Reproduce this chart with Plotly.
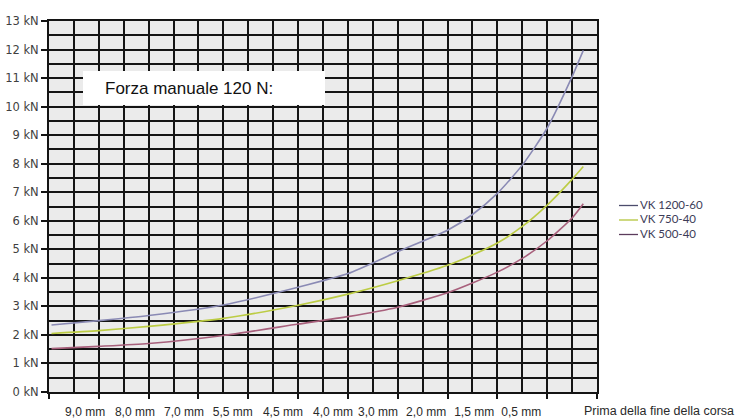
import plotly.graph_objects as go

# Stroke position along the grid (one unit = one grid column) and closing force in kN
pos = [0.1, 2, 4, 7, 10, 12, 14, 16, 17, 18, 19, 20, 21, 21.45]
vk_1200_60 = [2.35, 2.5, 2.68, 3.05, 3.67, 4.15, 4.92, 5.67, 6.22, 6.96, 7.95, 9.25, 11.05, 11.97]
vk_750_40 = [2.05, 2.15, 2.3, 2.58, 3.04, 3.43, 3.9, 4.44, 4.8, 5.22, 5.8, 6.55, 7.45, 7.9]
vk_500_40 = [1.52, 1.6, 1.7, 1.98, 2.38, 2.64, 2.97, 3.48, 3.82, 4.2, 4.68, 5.3, 6.1, 6.6]

series_names = ["VK 1200-60", "VK 750-40", "VK 500-40"]
series_values = [vk_1200_60, vk_750_40, vk_500_40]
curve_colors = ["#8a8ab4", "#bccc44", "#a8607c"]
legend_colors = ["#4c4c6c", "#b4c43c", "#5c3c5c"]

# Stroke labels under the axis
stroke_labels = ["9,0 mm", "8,0 mm", "7,0 mm", "5,5 mm", "4,5 mm",
                 "4,0 mm", "3,0 mm", "2,0 mm", "1,5 mm", "0,5 mm"]
stroke_label_pos = [1.45, 3.45, 5.42, 7.38, 9.39, 11.4, 13.21, 15.14, 17.07, 18.96]

force_ticks = list(range(0, 14))
force_labels = [f"{v} kN" for v in force_ticks]

W, H = 749, 419
ML, MR, MT, MB = 49, 152, 21, 27
PW, PH = W - ML - MR, H - MT - MB


def px(x):
    return (x - ML) / PW


def py(y):
    return (H - MB - y) / PH


fig = go.Figure()
for name, vals, col in zip(series_names, series_values, curve_colors):
    fig.add_trace(go.Scatter(
        x=pos, y=vals, mode="lines", name=name, showlegend=False,
        line=dict(color=col, width=1.6, shape="spline", smoothing=0.6),
        hoverinfo="skip",
    ))

# invisible traces that carry the label axis and the half-kN grid axis
fig.add_trace(go.Scatter(x=[0, 22], y=[0, 0], xaxis="x2", mode="lines",
                         line=dict(width=0), showlegend=False, hoverinfo="skip"))
fig.add_trace(go.Scatter(x=[0, 22], y=[0, 0], yaxis="y2", mode="lines",
                         line=dict(width=0), showlegend=False, hoverinfo="skip"))

grid = "#141414"
gw = 1.7
fig.update_layout(
    width=W, height=H,
    margin=dict(l=ML, r=MR, t=MT, b=MB, autoexpand=False),
    paper_bgcolor="white", plot_bgcolor="#ebebeb",
    showlegend=False,
    xaxis=dict(
        range=[0, 22], tickvals=list(range(0, 23, 2)), showticklabels=False,
        ticks="outside", ticklen=5, tickwidth=1.5, tickcolor=grid,
        showgrid=True, gridcolor=grid, gridwidth=gw,
        minor=dict(dtick=1, showgrid=True, gridcolor=grid, gridwidth=gw, ticks=""),
        showline=True, linecolor=grid, linewidth=2, mirror=True, zeroline=False,
        automargin=False, fixedrange=True,
    ),
    xaxis2=dict(
        range=[0, 22], overlaying="x", anchor="y", side="bottom",
        tickvals=stroke_label_pos, ticktext=stroke_labels, ticks="",
        showgrid=False, showline=False, zeroline=False,
        ticklabelstandoff=11, automargin=False, fixedrange=True,
        tickfont=dict(family="Liberation Sans, Arial, sans-serif", size=12, color="#2a2a2a"),
    ),
    yaxis=dict(
        range=[0, 13], tickvals=force_ticks, ticktext=force_labels,
        ticks="outside", ticklen=6, tickwidth=1.5, tickcolor=grid,
        showgrid=True, gridcolor=grid, gridwidth=gw,
        showline=True, linecolor=grid, linewidth=2, mirror=True, zeroline=False,
        ticklabelstandoff=0, automargin=False, fixedrange=True,
        tickfont=dict(family="DejaVu Sans, sans-serif", size=11.5, color="#3f3f3f"),
    ),
    yaxis2=dict(
        range=[0, 13], overlaying="y", anchor="x", side="left",
        dtick=0.5, showticklabels=False, ticks="",
        showgrid=True, gridcolor=grid, gridwidth=gw,
        showline=False, zeroline=False, automargin=False, fixedrange=True,
    ),
)

# white caption box inside the grid
fig.add_shape(type="rect", xref="paper", yref="paper",
              x0=px(83), x1=px(325), y0=py(105), y1=py(71),
              fillcolor="white", line=dict(width=0), layer="above")
fig.add_annotation(xref="paper", yref="paper", x=px(103), y=py(88),
                   xanchor="left", yanchor="middle", showarrow=False,
                   text="Forza manuale 120 N:",
                   font=dict(family="Liberation Sans, Arial, sans-serif", size=17, color="#111"))

fig.add_annotation(xref="paper", yref="paper", x=px(582), y=py(411),
                   xanchor="left", yanchor="middle", showarrow=False,
                   text="Prima della fine della corsa",
                   font=dict(family="Liberation Sans, Arial, sans-serif", size=12.5, color="#2a2a2a"))

# legend: short coloured dash followed by the series name
legend_rows = [204, 218.5, 233]
for name, col, yy in zip(series_names, legend_colors, legend_rows):
    fig.add_shape(type="line", xref="paper", yref="paper",
                  x0=px(619), x1=px(638), y0=py(yy + 1.5), y1=py(yy + 1.5),
                  line=dict(color=col, width=1.3))
    fig.add_annotation(xref="paper", yref="paper", x=px(638), y=py(yy),
                       xanchor="left", yanchor="middle", showarrow=False,
                       text=name,
                       font=dict(family="Lato, sans-serif", size=11.5, color="#3c3c58"))

fig.write_html("out.html")
